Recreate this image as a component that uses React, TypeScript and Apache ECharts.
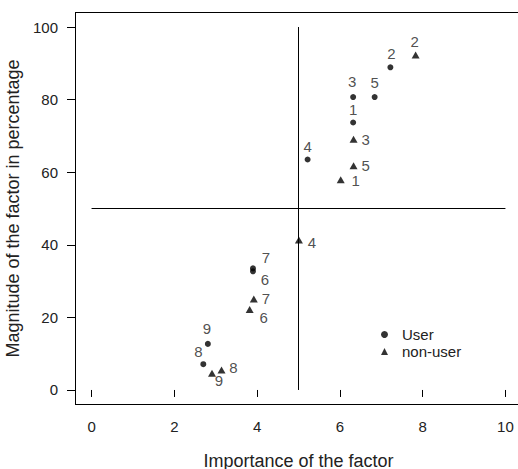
import React, { useEffect, useRef } from "react";
import * as echarts from "echarts";

// ---- data ----
const pointIds = ["1", "2", "3", "4", "5", "6", "7", "8", "9"];
const userX = [6.32, 7.22, 6.32, 5.22, 6.84, 3.9, 3.9, 2.7, 2.81];
const userY = [73.7, 88.9, 80.7, 63.5, 80.7, 32.7, 33.5, 7.1, 12.7];
const nonUserX = [6.02, 7.83, 6.33, 5.01, 6.33, 3.82, 3.92, 3.14, 2.91];
const nonUserY = [57.9, 92.3, 69.1, 41.3, 61.8, 22.2, 25.1, 5.5, 4.6];
const xTicks = [0, 2, 4, 6, 8, 10];
const yTicks = [0, 20, 40, 60, 80, 100];
const vLine = [[5, 0], [5, 100]];
const hLine = [[0, 50], [10, 50]];

// ---- axis limits (plot box) ----
const X_MIN = -0.4;
const X_MAX = 10.4;
const Y_MIN = -4;
const Y_MAX = 104;

// ---- label placement (style) ----
const userLabelOffset = [
  [0, -13], [1, -14], [-1, -16], [0, -13], [0, -15], [12, 8], [13, -11], [-5, -13], [-1, -15],
];
const nonUserLabelOffset = [
  [15, 1], [-1, -13], [12, 0], [13, 2], [12, 0], [14, 8], [12, 0], [12, -3], [7, 7],
];

const FONT = "'Liberation Sans', Arial, Helvetica, sans-serif";
const TXT = "#222";

export default function App() {
  const ref = useRef<HTMLDivElement>(null);
  useEffect(() => {
    if (!ref.current) return;
    const chart = echarts.init(ref.current, null, { renderer: "svg" });
    const mk = (xs: number[], ys: number[], offs: number[][]) =>
      xs.map((x, i) => ({
        name: pointIds[i],
        value: [x, ys[i]],
        label: { offset: offs[i] },
      }));
    const labelStyle = {
      show: true,
      position: "inside",
      formatter: "{b}",
      fontFamily: FONT,
      fontSize: 15,
      color: TXT,
      textBorderWidth: 0,
      textBorderColor: "transparent",
    };
    const seg = (data: number[][]) => ({
      type: "line",
      data,
      symbol: "none",
      silent: true,
      clip: false,
      lineStyle: { color: "#000", width: 1 },
    });
    chart.setOption({
      animation: false,
      backgroundColor: "#fff",
      textStyle: { fontFamily: FONT },
      grid: {
        left: 75,
        top: 12.5,
        width: 447,
        height: 392,
        outerBoundsMode: "none",
        containLabel: false,
        show: false,
      },
      legend: {
        orient: "vertical",
        left: 381,
        top: 327,
        padding: 0,
        itemWidth: 7,
        itemHeight: 7,
        itemGap: 2,
        textStyle: {
          fontFamily: FONT,
          fontSize: 15,
          color: TXT,
          lineHeight: 15,
          padding: [0, 0, 0, 9],
        },
        data: [
          { name: "User", icon: "circle" },
          { name: "non-user", icon: "triangle" },
        ],
      },
      xAxis: {
        type: "value",
        min: X_MIN,
        max: X_MAX,
        position: "bottom",
        offset: 2,
        name: "Importance of the factor",
        nameLocation: "middle",
        nameGap: 45,
        nameTextStyle: { fontFamily: FONT, fontSize: 18, color: TXT },
        axisLine: { show: false },
        splitLine: { show: false },
        axisTick: { show: true, length: 7, customValues: xTicks, lineStyle: { color: "#000" } },
        axisLabel: { customValues: xTicks, margin: 12.5, fontFamily: FONT, fontSize: 15, color: TXT },
      },
      yAxis: {
        type: "value",
        min: Y_MIN,
        max: Y_MAX,
        name: "Magnitude of the factor in percentage",
        nameLocation: "middle",
        nameGap: 45,
        nameTextStyle: { fontFamily: FONT, fontSize: 18, color: TXT },
        axisLine: { show: true, onZero: false, lineStyle: { color: "#000" } },
        splitLine: { show: false },
        axisTick: { show: true, length: 8, customValues: yTicks, lineStyle: { color: "#000" } },
        axisLabel: { customValues: yTicks, margin: 17, fontFamily: FONT, fontSize: 15, color: TXT },
      },
      series: [
        {
          type: "custom",
          silent: true,
          clip: false,
          z: 1,
          data: [[X_MIN, Y_MIN]],
          renderItem: (_params: any, api: any) => {
            const tl = api.coord([X_MIN, Y_MAX]);
            const tr = api.coord([X_MAX, Y_MAX]);
            const bl = api.coord([X_MIN, Y_MIN]);
            const br = api.coord([X_MAX, Y_MIN]);
            const st = { stroke: "#000", lineWidth: 1, fill: "none" };
            return {
              type: "group",
              children: [
                { type: "line", shape: { x1: tl[0], y1: tl[1], x2: tr[0], y2: tr[1] }, style: st },
                { type: "line", shape: { x1: bl[0], y1: bl[1], x2: br[0], y2: br[1] }, style: st },
              ],
            };
          },
        },
        seg(vLine),
        seg(hLine),
        {
          name: "User",
          type: "scatter",
          symbol: "circle",
          symbolSize: 6,
          itemStyle: { color: "#000" },
          label: labelStyle,
          data: mk(userX, userY, userLabelOffset),
        },
        {
          name: "non-user",
          type: "scatter",
          symbol: "triangle",
          symbolSize: [8, 7],
          itemStyle: { color: "#000" },
          label: labelStyle,
          data: mk(nonUserX, nonUserY, nonUserLabelOffset),
        },
      ],
    });
    return () => chart.dispose();
  }, []);
  return (
    <div style={{ position: "absolute", left: 0, top: 0, width: 518, height: 469, overflow: "hidden", background: "#fff" }}>
      <div ref={ref} style={{ width: 540, height: 469 }} />
    </div>
  );
}
